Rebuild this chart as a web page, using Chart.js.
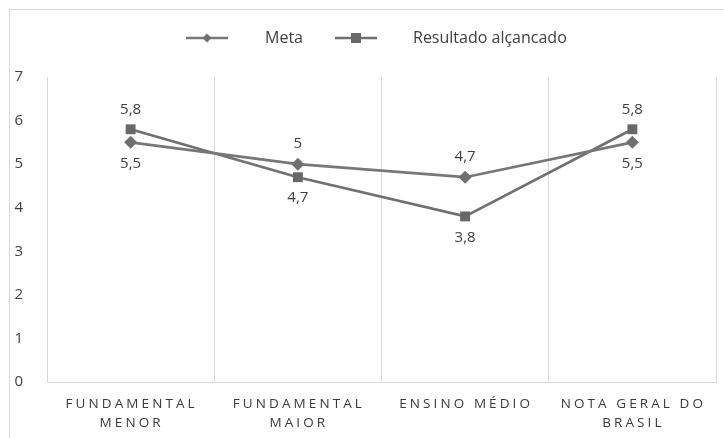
<!DOCTYPE html>
<html>
<head>
<meta charset="utf-8">
<script src="https://cdn.jsdelivr.net/npm/chart.js@4/dist/chart.umd.min.js"></script>
<style>
  html, body { margin: 0; padding: 0; background: #fff; }
  #wrap { position: relative; width: 724px; height: 438px; }
  #frame { position: absolute; left: 9px; top: 9px; width: 740px; height: 460px;
           border: 1px solid #d9d9d9; box-sizing: border-box; pointer-events: none; }
</style>
</head>
<body>
<div id="wrap">
  <canvas id="chart" width="724" height="438"></canvas>
  <div id="frame"></div>
</div>
<script>
// categories (two lines each)
var categorias = [["FUNDAMENTAL", "MENOR"], ["FUNDAMENTAL", "MAIOR"], ["ENSINO MÉDIO"], ["NOTA GERAL DO", "BRASIL"]];
var meta = [5.5, 5, 4.7, 5.5];
var resultado = [5.8, 4.7, 3.8, 5.8];
var yTicks = [0, 1, 2, 3, 4, 5, 6, 7];
// label position for each point: 'above' or 'below'
var metaPos = ["below", "above", "above", "below"];
var resultadoPos = ["above", "below", "below", "above"];

var fonte = "'Open Sans', 'Noto Sans', sans-serif";

//data labels with comma decimals
var rotulos = {
  id: "rotulos",
  afterDatasetsDraw: function(chart) {
    var ctx = chart.ctx;
    ctx.save();
    ctx.font = "15px " + fonte;
    ctx.fillStyle = "#404040";
    ctx.textAlign = "center";
    ctx.textBaseline = "middle";
    chart.data.datasets.forEach(function(ds, i) {
      var meta_ = chart.getDatasetMeta(i);
      meta_.data.forEach(function(pt, j) {
        var txt = String(ds.data[j]).replace(".", ",");
        var dy = ds.posicoes[j] === "above" ? -20 : 21;
        ctx.fillText(txt, pt.x, pt.y + dy);
      });
    });
    ctx.restore();
  }
};

//custom legend: line + marker + text
var legenda = {
  id: "legenda",
  afterDraw: function(chart) {
    var ctx = chart.ctx;
    var itens = [{x: 186, tx: 265}, {x: 335, tx: 413}];
    ctx.save();
    chart.data.datasets.forEach(function(ds, i) {
      var it = itens[i], y = 38;
      ctx.strokeStyle = ds.borderColor;
      ctx.lineWidth = 2.5;
      ctx.beginPath();
      ctx.moveTo(it.x, y);
      ctx.lineTo(it.x + 42, y);
      ctx.stroke();
      ctx.fillStyle = ds.pointBackgroundColor;
      var cx = it.x + 21;
      if (ds.pointStyle === "rectRot") {
        ctx.beginPath();
        ctx.moveTo(cx, y - 4.5); ctx.lineTo(cx + 4.5, y); ctx.lineTo(cx, y + 4.5); ctx.lineTo(cx - 4.5, y);
        ctx.closePath(); ctx.fill();
      } else {
        ctx.fillRect(cx - 5, y - 5, 10, 10);
      }
      ctx.font = "16px " + fonte;
      ctx.fillStyle = "#404040";
      ctx.textBaseline = "middle";
      ctx.textAlign = "left";
      ctx.fillText(ds.label, it.tx, y);
    });
    ctx.restore();
  }
};

//x labels with letter spacing
var rotulosX = {
  id: "rotulosX",
  afterDraw: function(chart) {
    var ctx = chart.ctx;
    var xs = chart.scales.x;
    ctx.save();
    ctx.font = "13.5px " + fonte;
    ctx.fillStyle = "#3a3a3a";
    ctx.textAlign = "center";
    ctx.textBaseline = "middle";
    ctx.letterSpacing = "3.1px";
    chart.data.labels.forEach(function(lbl, i) {
      var x = xs.getPixelForValue(i) + 1;
      lbl.forEach(function(linha, k) {
        ctx.fillText(linha, x, 404 + k * 19);
      });
    });
    ctx.restore();
  }
};

var grafico = new Chart(document.getElementById("chart"), {
  type: "line",
  data: {
    labels: categorias,
    datasets: [
      {
        label: "Meta",
        data: meta,
        posicoes: metaPos,
        borderColor: "#777777",
        backgroundColor: "#777777",
        pointBackgroundColor: "#707070",
        pointBorderWidth: 0,
        borderWidth: 2.7,
        pointStyle: "rectRot",
        pointRadius: 6.5,
        tension: 0
      },
      {
        label: "Resultado alçancado",
        data: resultado,
        posicoes: resultadoPos,
        borderColor: "#707070",
        backgroundColor: "#707070",
        pointBackgroundColor: "#686868",
        pointBorderWidth: 0,
        borderWidth: 2.7,
        pointStyle: "rect",
        pointRadius: 7,
        tension: 0
      }
    ]
  },
  options: {
    responsive: false,
    animation: false,
    layout: { padding: { left: 9, right: 8, top: 77, bottom: 0 } },
    plugins: {
      legend: { display: false },
      tooltip: { enabled: false }
    },
    scales: {
      x: {
        offset: true,
        grid: { display: true, offset: true, color: "#d9d9d9", lineWidth: 1, drawTicks: false },
        border: { display: true, color: "#d9d9d9" },
        ticks: { display: false },
        afterFit: function(s) { s.height = 56; }
      },
      y: {
        min: 0,
        max: 7,
        afterBuildTicks: function(s) { s.ticks = yTicks.map(function(v) { return {value: v}; }); },
        grid: { display: false },
        border: { display: false },
        ticks: { color: "#404040", font: { size: 15, family: fonte }, padding: 16 },
        afterFit: function(s) { s.width = 38; }
      }
    }
  },
  plugins: [rotulos, legenda, rotulosX]
});
</script>
</body>
</html>
